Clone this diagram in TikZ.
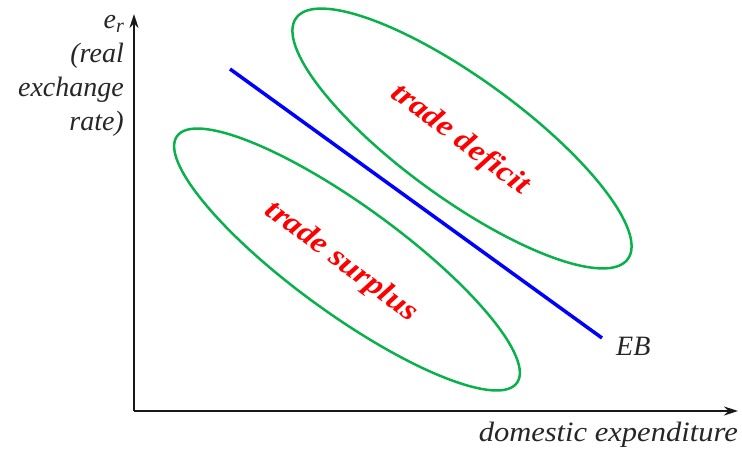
\documentclass[tikz,border=0pt]{standalone}
\usepackage{fontspec}
\setmainfont{Liberation Serif}
\newfontfamily\widefont{Liberation Serif}[FakeStretch=1.09]
\newfontfamily\regionfont{Liberation Serif}[FakeStretch=1.12]
\usetikzlibrary{arrows.meta}
\definecolor{regiongreen}{RGB}{10,176,75}
\begin{document}
\begin{tikzpicture}[x=1pt,y=1pt,
  axisline/.style={line width=2pt, draw=black!90, -{Stealth[length=14pt,width=9pt]}},
  regionline/.style={draw=regiongreen, line width=2.5pt},
  ebline/.style={draw=blue, line width=3.5pt},
  lab/.style={font=\fontsize{28}{33}\selectfont\itshape, text=black!85, inner sep=0pt},
  regionlab/.style={font=\regionfont\fontsize{30}{30}\selectfont\bfseries\itshape, text=red, inner sep=0pt}]
\useasboundingbox (0,0) rectangle (742,448);
\coordinate (origin) at (134,37);
\coordinate (ytip) at (134,434);
\coordinate (xtip) at (738,37);
\draw[axisline] (origin) -- (ytip);
\draw[axisline] (origin) -- (xtip);
\draw[regionline] (462,309.5) ellipse[x radius=205, y radius=60, rotate=-36];
\draw[regionline] (347,188.5) ellipse[x radius=210, y radius=54, rotate=-36];
\coordinate (ebstart) at (230,379);
\coordinate (ebend) at (602,110);
\draw[ebline] (ebstart) -- (ebend);
\node[lab, anchor=base west] (eb) at (616,93) {EB};
\node[lab, font=\widefont\fontsize{28}{33}\selectfont\itshape, anchor=base east] (xlab) at (738,7) {domestic expenditure};
\node[lab, font=\fontsize{28}{34}\selectfont\itshape, anchor=north east, align=right] (ylab) at (124,433) {e\raisebox{-0.35ex}{\fontsize{20}{20}\selectfont r}\\(real\\exchange\\rate)};
\node[regionlab, rotate=-37] (deficit) at (460,308) {trade deficit};
\node[regionlab, rotate=-36.5] (surplus) at (341,186) {trade surplus};
\end{tikzpicture}
\end{document}
